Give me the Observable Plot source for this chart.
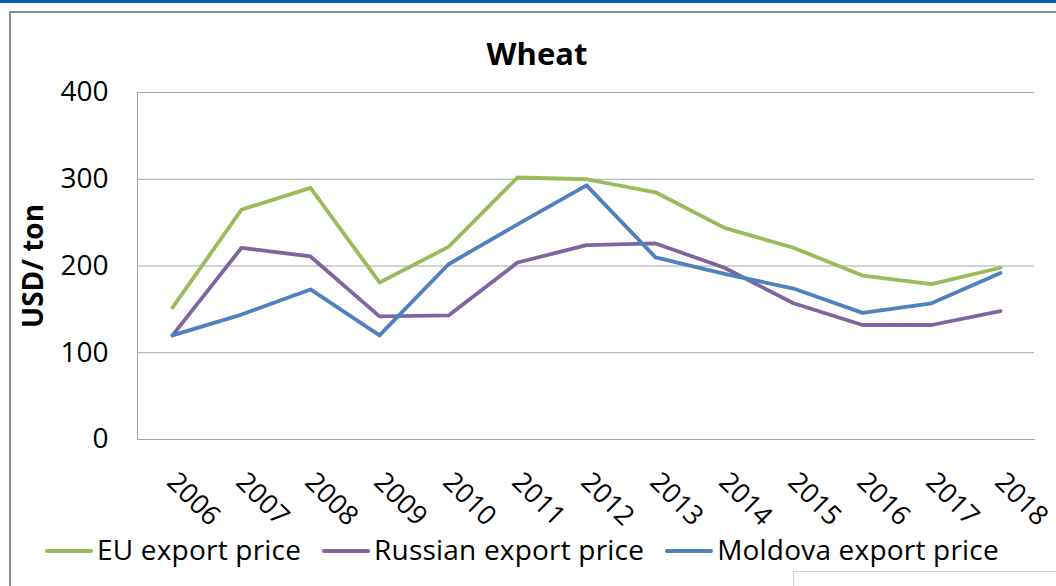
<!DOCTYPE html>
<html>
<head>
<meta charset="utf-8">
<script src="https://cdn.jsdelivr.net/npm/d3@7"></script>
<script src="https://cdn.jsdelivr.net/npm/@observablehq/plot@0.6"></script>
<style>
  html, body { margin: 0; padding: 0; background: #fff; }
  body { width: 1056px; height: 586px; overflow: hidden; position: relative; font-family: "Open Sans", sans-serif; color: #000; }
  #topbar { position: absolute; left: 0; top: 0; width: 1056px; height: 3px; background: #0a5fab; }
  #frame { position: absolute; left: 9px; top: 11px; width: 1100px; height: 700px; border-left: 2px solid #8c8c8c; border-top: 2px solid #8c8c8c; }
  #corner { position: absolute; left: 793px; top: 571px; width: 400px; height: 100px; border-left: 1px solid #d0d0d0; border-top: 1px solid #d0d0d0; }
  #title { position: absolute; left: 387px; top: 37px; width: 300px; text-align: center; font-size: 31px; line-height: 32px; font-weight: bold; }
  #chart { position: absolute; left: 0; top: 75px; }
  #legend { position: absolute; left: 45px; top: 535px; display: flex; align-items: center; font-size: 28px; line-height: 28px; letter-spacing: 0.2px; white-space: nowrap; }
  .item { display: flex; align-items: center; margin-right: 21px; }
  .swatch { width: 48px; height: 4px; margin-right: 4px; margin-top: 3px; border-radius: 2px; }
  g[aria-label="y-axis label"] text { font-weight: bold; }
</style>
</head>
<body>
<div id="topbar"></div>
<div id="frame"></div>
<div id="corner"></div>
<div id="title">Wheat</div>
<div id="chart"></div>
<div id="legend"></div>
<script>
const years = ["2006","2007","2008","2009","2010","2011","2012","2013","2014","2015","2016","2017","2018"];
const seriesNames = ["EU export price", "Russian export price", "Moldova export price"];
const seriesColors = ["#9bbb59", "#8064a2", "#4f81bd"];
const euPrice      = [152, 265, 290, 181, 222, 302, 300, 285, 244, 221, 189, 179, 198];
const russianPrice = [120, 221, 211, 142, 143, 204, 224, 226, 198, 157, 132, 132, 148];
const moldovaPrice = [120, 144, 173, 120, 202, 248, 293, 210, 191, 174, 146, 157, 192];
const yTicks = [0, 100, 200, 300, 400];

const allSeries = [euPrice, russianPrice, moldovaPrice];
const data = [];
allSeries.forEach((vals, s) => vals.forEach((v, i) => data.push({year: years[i], value: v, series: seriesNames[s]})));

const chart = Plot.plot({
  width: 1056,
  height: 470,
  marginTop: 17,
  marginBottom: 106,
  marginLeft: 137,
  marginRight: 22,
  style: {fontFamily: "Open Sans", fontSize: "28px", color: "#000", background: "transparent", overflow: "visible"},
  x: {type: "point", domain: years, padding: 0.5},
  y: {domain: [0, 400]},
  color: {domain: seriesNames, range: seriesColors},
  marks: [
    Plot.gridY(yTicks.filter(d => d > 0), {stroke: "#a6a6a6", strokeOpacity: 1, strokeWidth: 1}),
    Plot.frame({anchor: "left", stroke: "#a6a6a6", strokeWidth: 1}),
    Plot.frame({anchor: "bottom", stroke: "#a6a6a6", strokeWidth: 1}),
    Plot.axisY({ticks: yTicks, tickSize: 0, tickPadding: 29, fontSize: 28, label: "USD/ ton", labelAnchor: "center", labelOffset: 114, labelArrow: "none"}),
    Plot.axisX({tickSize: 0, tickRotate: 45, tickPadding: 38, fontSize: 27, dx: -1, label: null}),
    Plot.line(data, {x: "year", y: "value", z: "series", stroke: "series", strokeWidth: 3.8, strokeLinejoin: "round", strokeLinecap: "round"})
  ]
});
document.getElementById("chart").appendChild(chart);

const legend = document.getElementById("legend");
seriesNames.forEach((name, i) => {
  const item = document.createElement("div");
  item.className = "item";
  const sw = document.createElement("div");
  sw.className = "swatch";
  sw.style.background = seriesColors[i];
  const label = document.createElement("span");
  label.textContent = name;
  item.appendChild(sw);
  item.appendChild(label);
  legend.appendChild(item);
});
</script>
</body>
</html>
